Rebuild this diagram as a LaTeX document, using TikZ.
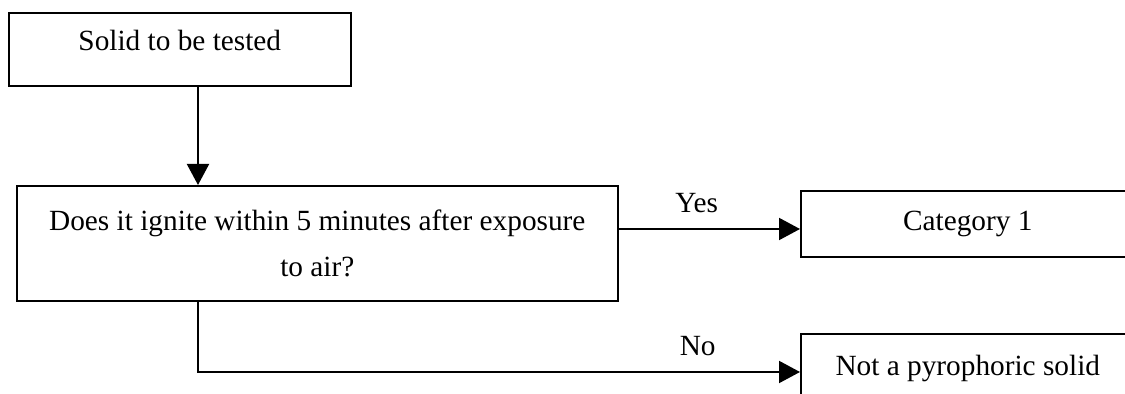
\documentclass[tikz,border=0pt]{standalone}
\usepackage{fontspec}
\setmainfont{Liberation Serif}
\usetikzlibrary{arrows.meta,positioning}
\begin{document}
\begin{tikzpicture}[x = .5pt, y = -.5pt,
    box/.style = {draw, line width = .8pt, inner sep = 0pt, anchor = north west},
    arr/.style = {line width = 1pt, -{Triangle[length = 10.5pt, width = 11pt]}},
    lbl/.style = {above = 7.5pt, inner sep = 0pt},
    font = \fontsize{14.65}{22.75}\selectfont]
      \useasboundingbox (0,0) rectangle (1125,394);
      \coordinate (spine) at (198,0);
      \coordinate (yesline) at (0,229);
      \coordinate (noline) at (0,372);
      \node [box, minimum width = 171pt, text height = 19pt, text depth = 17.5pt] (solid) at (8,12) {Solid to be tested};
      \node [box, minimum width = 300.5pt, minimum height = 57.5pt, yshift = 0pt, align = center] (ask) at (16,185)
        {Does it ignite within 5 minutes after exposure\\ to air?};
      \node [box, minimum width = 167pt, minimum height = 33pt] (cat) at (800,190) {Category 1};
      \node [box, minimum width = 167pt, text height = 21pt, text depth = 20pt] (notpyro) at (800,333) {Not a pyrophoric solid};
      \draw [arr] (solid.south -| spine) -- (ask.north -| spine);
      \draw [arr] (ask.east |- yesline) -- node [lbl, pos = .43] {Yes} (cat.west |- yesline);
      \draw [arr] (ask.south -| spine) |- node [lbl, pos = .915] {No} (notpyro.west |- noline);
    \end{tikzpicture}
\end{document}
